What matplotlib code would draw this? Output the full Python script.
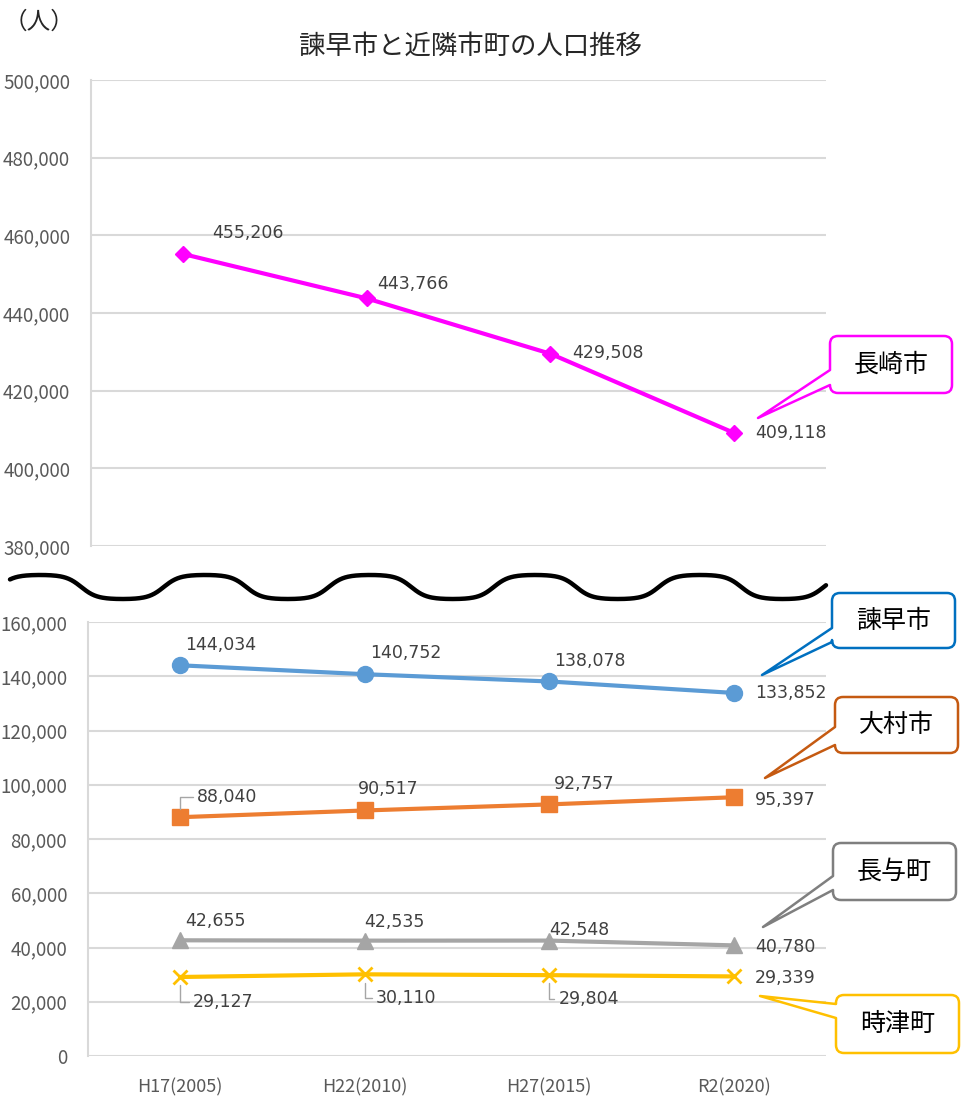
import numpy as np
import matplotlib.pyplot as plt
from matplotlib.path import Path
from matplotlib.patches import PathPatch
from matplotlib.ticker import FuncFormatter

plt.rcParams['font.family'] = ['Noto Sans CJK JP', 'DejaVu Sans']

# data
years = ['H17(2005)', 'H22(2010)', 'H27(2015)', 'R2(2020)']
nagasaki = [455206, 443766, 429508, 409118]
isahaya = [144034, 140752, 138078, 133852]
omura = [88040, 90517, 92757, 95397]
nagayo = [42655, 42535, 42548, 40780]
togitsu = [29127, 30110, 29804, 29339]

W, H = 966, 1104
fig = plt.figure(figsize=(W / 100, H / 100), dpi=100)


def px_box(x0, y0, x1, y1):
    return [x0 / W, 1 - y1 / H, (x1 - x0) / W, (y1 - y0) / H]


ax_top = fig.add_axes(px_box(91, 80, 826, 546))
ax_bot = fig.add_axes(px_box(88, 622, 826, 1056))

GRID = '#d9d9d9'
TICK = '#595959'
LABEL = '#404040'
fmt = FuncFormatter(lambda v, p: f'{v:,.0f}')

for ax in (ax_top, ax_bot):
    ax.set_xlim(-0.5, 3.5)
    for s in ('top', 'right', 'bottom'):
        ax.spines[s].set_visible(False)
    ax.spines['left'].set_color(GRID)
    ax.spines['left'].set_linewidth(1.5)
    ax.grid(axis='y', color=GRID, linewidth=1.5)
    ax.set_axisbelow(True)
    ax.yaxis.set_major_formatter(fmt)
    ax.tick_params(axis='y', length=0, pad=15, labelsize=13.5, labelcolor=TICK)
    ax.set_facecolor('none')

ax_top.set_ylim(380000, 500000)
ax_top.set_yticks(range(380000, 500001, 20000))
ax_top.set_xticks([])

ax_bot.set_ylim(0, 160000)
ax_bot.set_yticks(range(0, 160001, 20000))
ax_bot.set_xticks(range(len(years)))
ax_bot.set_xticklabels(years)
ax_bot.tick_params(axis='x', length=0, pad=16, labelsize=13, labelcolor=TICK)

x = np.arange(len(years))


def labels(ax, vals, offsets, leaders=()):
    for i, (v, (dx, dy)) in enumerate(zip(vals, offsets)):
        kw = {}
        if i in leaders:
            kw['arrowprops'] = dict(arrowstyle='-', color='#a6a6a6', lw=1,
                                    shrinkA=1, shrinkB=6, relpos=(0, 0.5),
                                    connectionstyle='angle,angleA=0,angleB=90,rad=0')
        ax.annotate(f'{v:,}', (i, v), xytext=(dx, dy), textcoords='offset pixels',
                    ha='left', va='center', fontsize=12.5, color=LABEL,
                    family='DejaVu Sans', **kw)


ax_top.plot(x, nagasaki, color='#ff00ff', lw=3, marker='D', ms=8, zorder=3)
labels(ax_top, nagasaki, [(29, 21), (11, 14), (22, 1), (21, 0)])

ax_bot.plot(x, isahaya, color='#5b9bd5', lw=3, marker='o', ms=11.5, zorder=3)
labels(ax_bot, isahaya, [(5, 20), (5, 21), (5, 20), (21, 0)])

ax_bot.plot(x, omura, color='#ed7d31', lw=3, marker='s', ms=11, zorder=3)
labels(ax_bot, omura, [(17, 20), (-7, 21), (5, 20), (21, -3)], leaders=(0,))

ax_bot.plot(x, nagayo, color='#a5a5a5', lw=3, marker='^', ms=11.5, zorder=3)
labels(ax_bot, nagayo, [(5, 19), (-1, 19), (0, 11), (21, -2)])

ax_bot.plot(x, togitsu, color='#ffc000', lw=3, marker='x', ms=10, mew=2, zorder=3)
labels(ax_bot, togitsu, [(13, -25), (11, -24), (9, -24), (21, -2)], leaders=(0, 1, 2))

# overlay in pixel coords for title, break line and callouts
ov = fig.add_axes([0, 0, 1, 1])
ov.set_xlim(0, W)
ov.set_ylim(H, 0)
ov.axis('off')

ov.text(470, 46, '諫早市と近隣市町の人口推移', ha='center', va='center',
        fontsize=19, color='#262626')
ov.text(39, 22, '（人）', ha='center', va='center', fontsize=17, color='#262626')

# wavy axis break
wx = np.linspace(10, 826, 600)
ph = 2 * np.pi * (wx - 40) / 165 + np.pi / 2
wy = 587 - 12 * np.tanh(1.6 * np.sin(ph)) / np.tanh(1.6)
ov.plot(wx, wy, color='black', lw=3.2, solid_capstyle='round')


def callout(x0, y0, x1, y1, tip, b0, b1, color, text, r=8):
    verts = [(x0, b1), tip, (x0, b0), (x0, y0 + r), (x0, y0), (x0 + r, y0),
             (x1 - r, y0), (x1, y0), (x1, y0 + r), (x1, y1 - r), (x1, y1),
             (x1 - r, y1), (x0 + r, y1), (x0, y1), (x0, y1 - r), (x0, b1), (x0, b1)]
    codes = [Path.MOVETO, Path.LINETO, Path.LINETO, Path.LINETO,
             Path.CURVE3, Path.CURVE3, Path.LINETO, Path.CURVE3, Path.CURVE3,
             Path.LINETO, Path.CURVE3, Path.CURVE3, Path.LINETO,
             Path.CURVE3, Path.CURVE3, Path.LINETO, Path.CLOSEPOLY]
    ov.add_patch(PathPatch(Path(verts, codes), facecolor='white',
                           edgecolor=color, lw=1.8, joinstyle='round'))
    ov.text((x0 + x1) / 2, (y0 + y1) / 2, text, ha='center', va='center',
            fontsize=18, color='black')


callout(830, 336, 952, 393, (758, 418), 370, 385, '#ff00ff', '長崎市')
callout(832, 593, 955, 648, (762, 675), 628, 642, '#0070c0', '諫早市')
callout(835, 697, 958, 753, (765, 778), 727, 745, '#c55a11', '大村市')
callout(833, 843, 956, 900, (763, 927), 876, 890, '#7f7f7f', '長与町')
callout(836, 995, 959, 1053, (760, 996), 1004, 1018, '#ffc000', '時津町')

fig.savefig('out.png', dpi=100, facecolor='white')
